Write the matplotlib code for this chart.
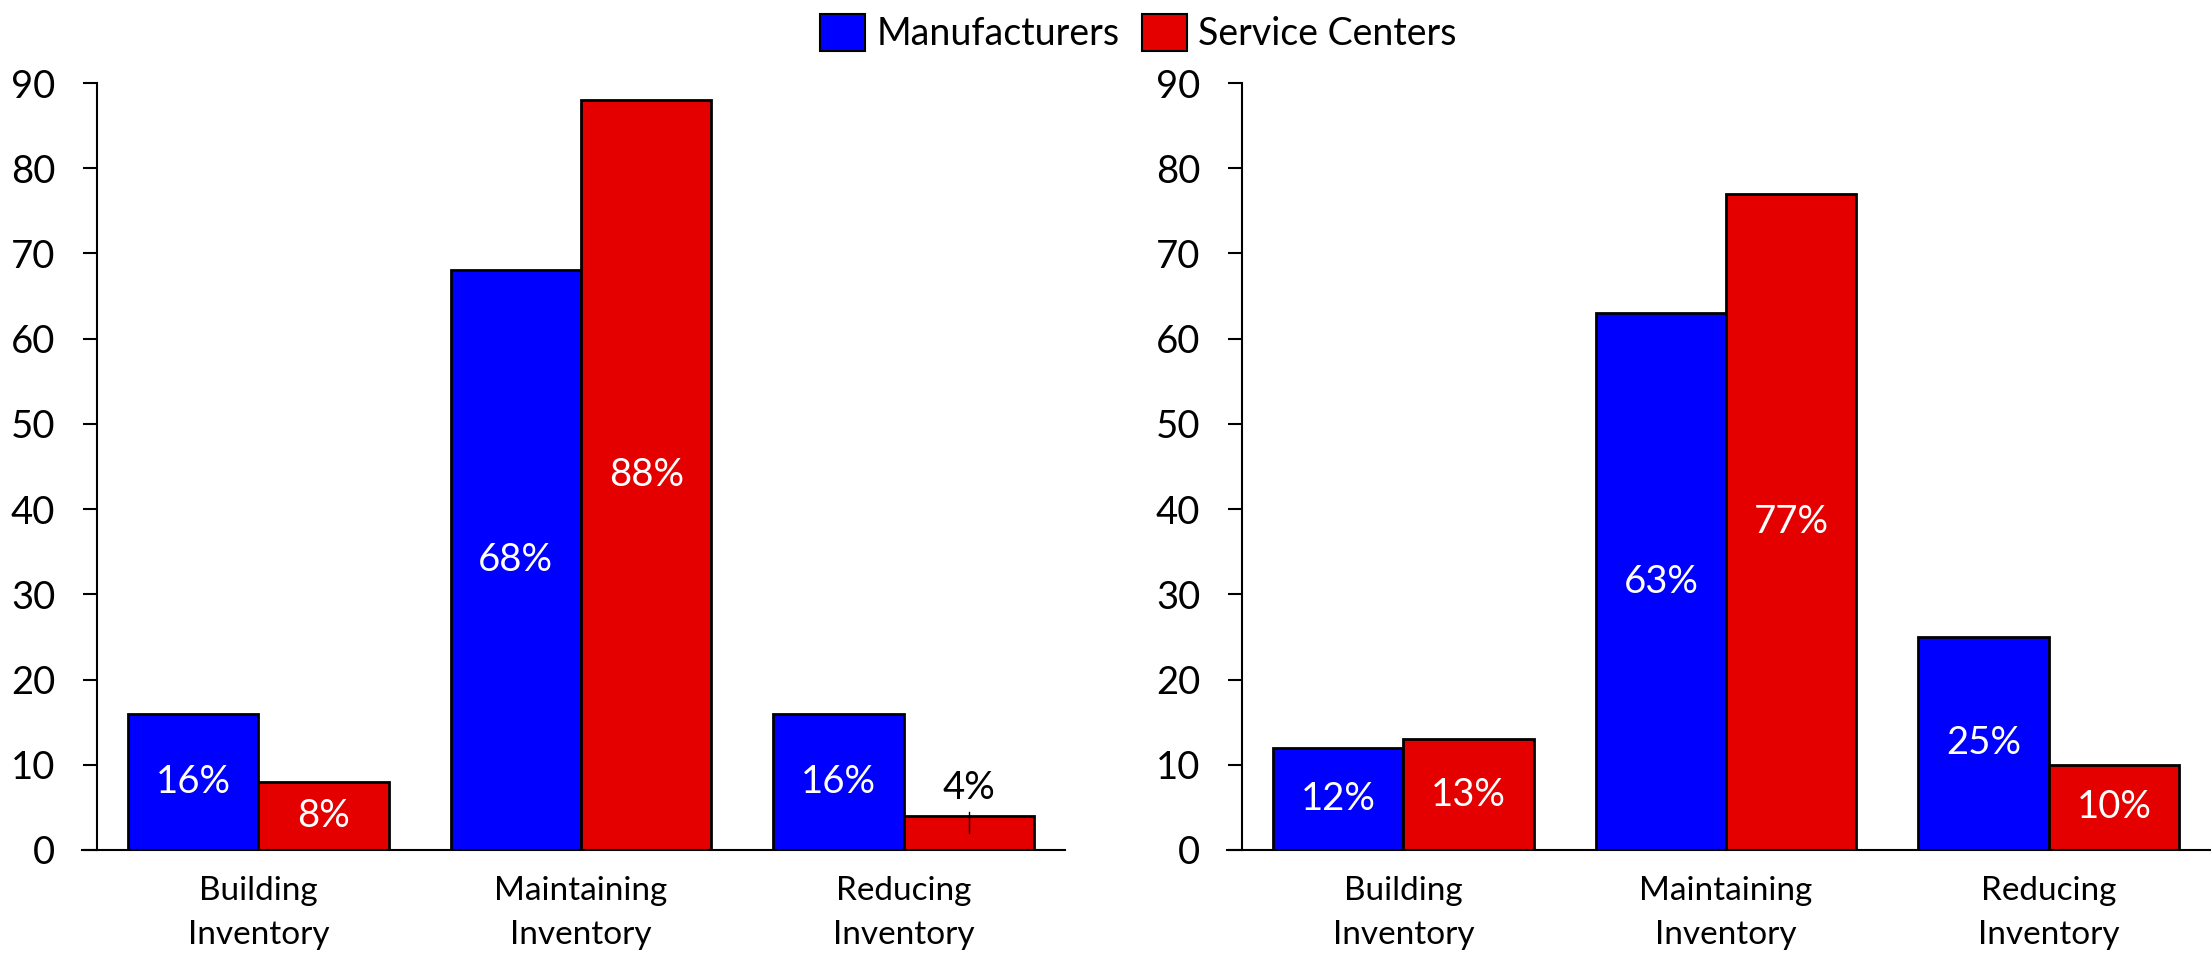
# Inventory strategy survey: manufacturers vs. service centers, two panels

# Data
import numpy as np

# Graphics
import matplotlib
matplotlib.use("Agg")
import matplotlib.pyplot as plt
from matplotlib.patches import Patch

plt.rcParams["font.family"] = ["Lato", "DejaVu Sans"]

# Categories and series values (percent of respondents)
categories = ["Building\nInventory", "Maintaining\nInventory", "Reducing\nInventory"]
series_names = ["Manufacturers", "Service Centers"]
left_manufacturers = [16, 68, 16]
left_service_centers = [8, 88, 4]
right_manufacturers = [12, 63, 25]
right_service_centers = [13, 77, 10]
y_ticks = [0, 10, 20, 30, 40, 50, 60, 70, 80, 90]

BLUE = "#0000FF"
RED = "#E50000"
BAR_W = 0.404


def draw_panel(ax, manufacturers, service_centers):
    """Grouped bars with percentage labels for one panel."""
    x = np.arange(len(categories))

    for offset, values, color in ((-BAR_W / 2, manufacturers, BLUE),
                                  (BAR_W / 2, service_centers, RED)):
        bars = ax.bar(x + offset, values, width=BAR_W, color=color,
                      edgecolor="black", linewidth=2, zorder=2)
        for bar, v in zip(bars, values):
            cx = bar.get_x() + bar.get_width() / 2
            if v < 5:
                # too short for an inside label: put it above with a leader
                ax.plot([cx, cx], [v / 2, v + 0.5], color="black", lw=1, zorder=3)
                ax.text(cx, v + 3.3, f"{v}%", ha="center", va="center",
                        fontsize=27.5, color="black")
            else:
                ax.text(cx, v / 2, f"{v}%", ha="center", va="center",
                        fontsize=27.5, color="white", zorder=3)

    ax.set_xlim(-0.5, len(categories) - 0.5)
    ax.set_ylim(0, 90)
    ax.set_yticks(y_ticks)
    ax.set_xticks(x)
    ax.set_xticklabels(categories, fontsize=24, linespacing=1.55)

    ax.spines["top"].set_visible(False)
    ax.spines["right"].set_visible(False)
    ax.spines["left"].set_linewidth(1.5)
    ax.spines["bottom"].set_linewidth(1.5)
    ax.spines["bottom"].set_bounds(-0.5 - 0.045, len(categories) - 0.5)

    ax.tick_params(axis="y", direction="out", length=10, width=1.5,
                   pad=20, labelsize=27.5)
    ax.tick_params(axis="x", length=0, pad=19)


fig = plt.figure(figsize=(22.11, 9.57), dpi=100)
W, H = 2211, 957
ax_left = fig.add_axes([97 / W, (H - 850) / H, 968 / W, 767 / H])
ax_right = fig.add_axes([1242 / W, (H - 850) / H, 968 / W, 767 / H])

draw_panel(ax_left, left_manufacturers, left_service_centers)
draw_panel(ax_right, right_manufacturers, right_service_centers)

# -- Shared legend --
handles = [Patch(facecolor=BLUE, edgecolor="black", linewidth=1.5),
           Patch(facecolor=RED, edgecolor="black", linewidth=1.5)]
fig.legend(handles, series_names, loc="upper center", ncol=2,
           bbox_to_anchor=(0.515, 1.005), frameon=False, fontsize=27,
           handlelength=1.2, handleheight=1.15, handletextpad=0.3,
           columnspacing=0.6, borderaxespad=0.1)

fig.savefig("out.png", dpi=100)
